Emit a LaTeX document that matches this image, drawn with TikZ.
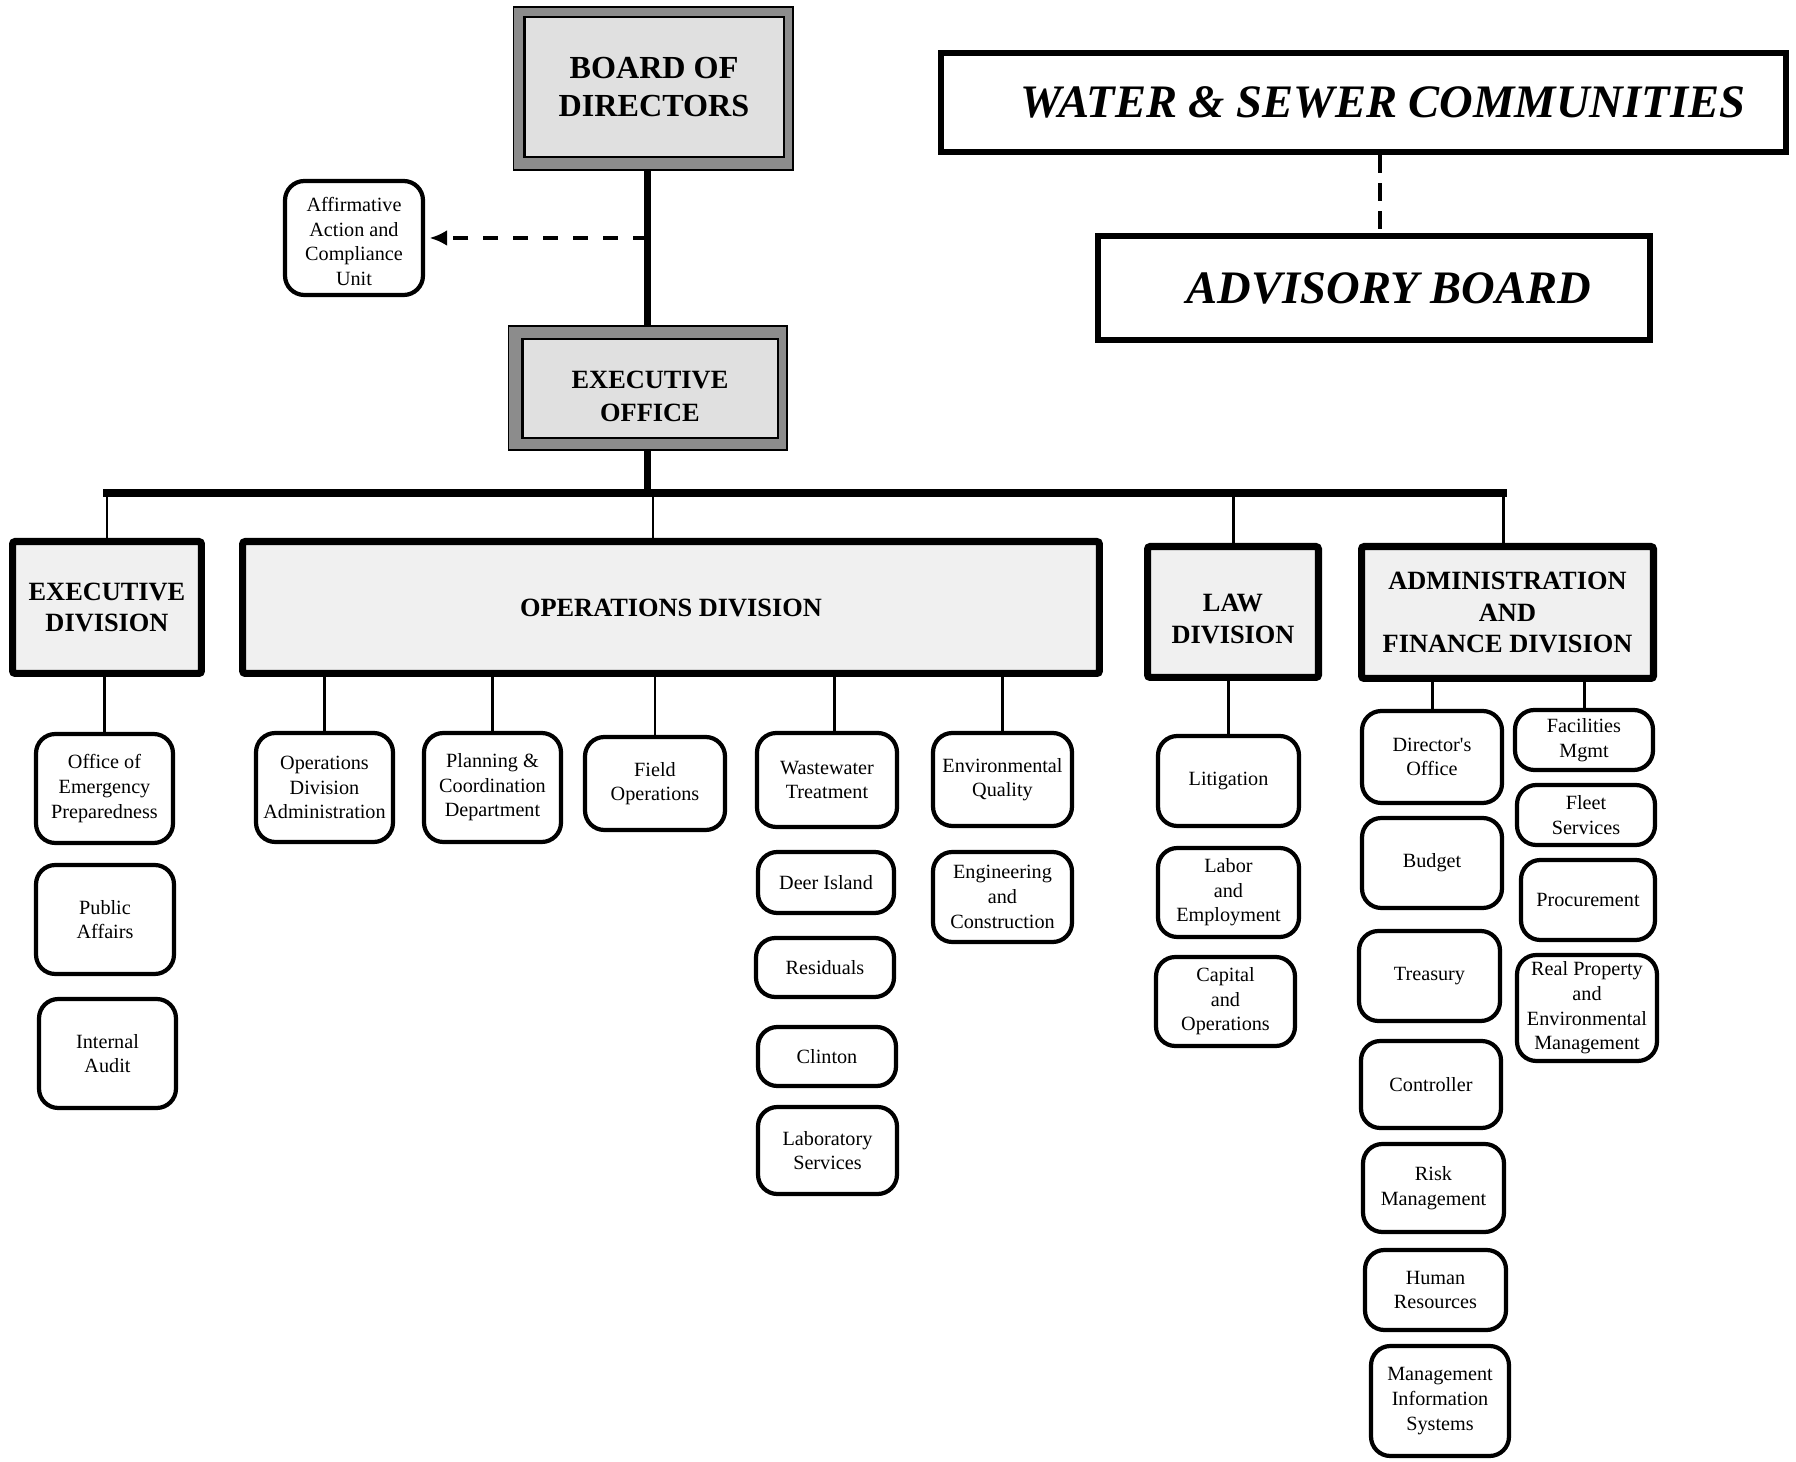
\documentclass[tikz,border=0pt]{standalone}
\usepackage{fontspec}
\setmainfont{Liberation Serif}
\usetikzlibrary{arrows.meta}

\definecolor{bandgray}{gray}{0.55}
\definecolor{headgray}{gray}{0.88}
\definecolor{divgray}{gray}{0.94}

\tikzset{
  bandbox/.style={draw, line width=0.6pt, fill=bandgray, inner sep=0pt},
  headbox/.style={draw, line width=1.4pt, fill=headgray, align=center, inner sep=0pt,
    font=\fontsize{15}{19}\selectfont\bfseries},
  divbox/.style={draw, line width=4pt, fill=divgray, rounded corners=1.5pt, align=center,
    inner sep=0pt, minimum height=2.64cm, font=\fontsize{15}{18}\selectfont\bfseries},
  unitbox/.style={draw, line width=2.4pt, rounded corners=11pt, align=center, inner sep=0pt,
    font=\fontsize{11.5}{14}\selectfont},
  plainbox/.style={draw, line width=3.4pt, inner sep=0pt,
    font=\fontsize{26.5}{30}\selectfont\bfseries\itshape},
  heavy/.style={line width=4.5pt},
  drop/.style={line width=1.7pt},
  dasharrow/.style={line width=2.3pt, dash pattern=on 8.5pt off 8.5pt,
    -{Latex[length=10pt,width=9pt]}, shorten >=2.5pt},
  dashlink/.style={line width=2pt, dash pattern=on 10pt off 6pt}
}

\begin{document}
\begin{tikzpicture}[x=0.02cm, y=-0.02cm]
\useasboundingbox (0,0) rectangle (1796,1462);

% top of the chart
\node[bandbox, minimum width=5.60cm, minimum height=3.26cm] (boardframe) at (653,88.5) {};
\node[headbox, minimum width=5.19cm, minimum height=2.81cm, font=\fontsize{18.3}{22}\selectfont\bfseries] (board) at (654,87) {BOARD OF\\DIRECTORS};
\node[bandbox, minimum width=5.58cm, minimum height=2.48cm] (eoframe) at (647.5,388) {};
\node[headbox, minimum width=5.11cm, minimum height=1.97cm] (eo) at (650,388.5) {\rule{0pt}{19pt}EXECUTIVE\\OFFICE};
\node[unitbox, minimum width=2.76cm, minimum height=2.28cm] (affirm) at (354,238) {\rule{0pt}{12pt}Affirmative\\Action and\\Compliance\\Unit};

\node[plainbox, minimum width=16.90cm, minimum height=1.98cm] (water) at (1363.5,102.5) {\hspace*{22pt}WATER \& SEWER COMMUNITIES};
\node[plainbox, minimum width=11.04cm, minimum height=2.08cm] (advisory) at (1374,288) {\hspace*{17pt}ADVISORY BOARD};

% divisions
\node[divbox, minimum width=3.78cm] (execdiv) at (107,607.5) {EXECUTIVE\\DIVISION};
\node[divbox, minimum width=17.14cm] (opsdiv) at (671,607.5) {OPERATIONS DIVISION};
\node[divbox, minimum width=3.42cm, minimum height=2.62cm] (lawdiv) at (1233,612) {\rule{0pt}{18pt}LAW\\DIVISION};
\node[divbox, minimum width=5.84cm] (admindiv) at (1507.5,612.5) {ADMINISTRATION\\AND\\FINANCE DIVISION};

% executive division units
\node[unitbox, minimum width=2.74cm, minimum height=2.18cm] (oep) at (104.5,788.5) {Office of\\Emergency\\Preparedness};
\node[unitbox, minimum width=2.76cm, minimum height=2.18cm] (pubaff) at (105,919.5) {Public\\Affairs};
\node[unitbox, minimum width=2.74cm, minimum height=2.18cm] (audit) at (107.5,1053.5) {Internal\\Audit};

% operations division units
\node[unitbox, minimum width=2.74cm, minimum height=2.18cm] (opsadmin) at (324.5,787.5) {Operations\\Division\\Administration};
\node[unitbox, minimum width=2.74cm, minimum height=2.18cm] (planning) at (492.5,787.5) {Planning \&\\Coordination\\Department};
\node[unitbox, minimum width=2.80cm, minimum height=1.86cm] (fieldops) at (655,783.5) {Field\\Operations};
\node[unitbox, minimum width=2.80cm, minimum height=1.88cm] (wwt) at (827,780) {Wastewater\\Treatment};
\node[unitbox, minimum width=2.72cm, minimum height=1.22cm] (deer) at (826,882.5) {Deer Island};
\node[unitbox, minimum width=2.76cm, minimum height=1.18cm] (resid) at (825,967.5) {Residuals};
\node[unitbox, minimum width=2.76cm, minimum height=1.18cm] (clinton) at (827,1056.5) {Clinton};
\node[unitbox, minimum width=2.78cm, minimum height=1.74cm] (lab) at (827.5,1150.5) {Laboratory\\Services};
\node[unitbox, minimum width=2.78cm, minimum height=1.86cm] (envq) at (1002.5,779.5) {Environmental\\Quality};
\node[unitbox, minimum width=2.78cm, minimum height=1.80cm] (engcon) at (1002.5,897) {Engineering\\and\\Construction};

% law division units
\node[unitbox, minimum width=2.82cm, minimum height=1.80cm] (litig) at (1228.5,781) {Litigation};
\node[unitbox, minimum width=2.82cm, minimum height=1.78cm] (labor) at (1228.5,892.5) {Labor\\and\\Employment};
\node[unitbox, minimum width=2.78cm, minimum height=1.78cm] (capital) at (1225.5,1001.5) {Capital\\and\\Operations};

% administration and finance units
\node[unitbox, minimum width=2.80cm, minimum height=1.84cm] (diroff) at (1432,757) {Director\textquotesingle s\\Office};
\node[unitbox, minimum width=2.80cm, minimum height=1.80cm] (budget) at (1432,863) {Budget};
\node[unitbox, minimum width=2.82cm, minimum height=1.80cm] (treas) at (1429.5,976) {Treasury};
\node[unitbox, minimum width=2.80cm, minimum height=1.74cm] (control) at (1431,1084.5) {Controller};
\node[unitbox, minimum width=2.82cm, minimum height=1.76cm] (risk) at (1433.5,1188) {Risk\\Management};
\node[unitbox, minimum width=2.82cm, minimum height=1.60cm] (hr) at (1435.5,1290) {Human\\Resources};
\node[unitbox, minimum width=2.76cm, minimum height=2.20cm] (mis) at (1440,1401) {Management\\Information\\Systems};
\node[unitbox, minimum width=2.76cm, minimum height=1.20cm] (facil) at (1584,740) {Facilities\\Mgmt};
\node[unitbox, minimum width=2.76cm, minimum height=1.20cm] (fleet) at (1586,815) {Fleet\\Services};
\node[unitbox, minimum width=2.68cm, minimum height=1.60cm] (procure) at (1588,900) {Procurement};
\node[unitbox, minimum width=2.80cm, minimum height=2.12cm] (realprop) at (1587,1008) {Real Property\\and\\Environmental\\Management};

% connectors
\coordinate (bl) at (107,493);
\coordinate (bo) at (653,493);
\coordinate (br) at (1503,493);
\draw[heavy] (boardframe.south -| eoframe.north) -- (eoframe.north);
\draw[dasharrow] (eoframe.north |- affirm.east) -- (affirm.east);
\draw[heavy] (eoframe.south) -- (eoframe.south |- bl);
\draw[heavy, line cap=rect] (bl) -- (br);
\draw[dashlink] ([xshift=9.4pt]water.south) -- ([xshift=9.4pt]water.south |- advisory.north);

\draw[drop] (bl) -- (execdiv.north);
\draw[drop] (bo) -- (bo |- opsdiv.north);
\draw[drop] (lawdiv.north |- bl) -- (lawdiv.north);
\draw[drop] (br) -- (br |- admindiv.north);

\draw[drop] (execdiv.south -| oep.north) -- (oep.north);
\draw[drop] (opsdiv.south -| opsadmin.north) -- (opsadmin.north);
\draw[drop] (opsdiv.south -| planning.north) -- (planning.north);
\draw[drop] (opsdiv.south -| fieldops.north) -- (fieldops.north);
\draw[drop] ([xshift=4pt]wwt.north |- opsdiv.south) -- ([xshift=4pt]wwt.north);
\draw[drop] (opsdiv.south -| envq.north) -- (envq.north);
\draw[drop] (lawdiv.south -| litig.north) -- (litig.north);
\draw[drop] (admindiv.south -| diroff.north) -- (diroff.north);
\draw[drop] (admindiv.south -| facil.north) -- (facil.north);
\end{tikzpicture}
\end{document}
